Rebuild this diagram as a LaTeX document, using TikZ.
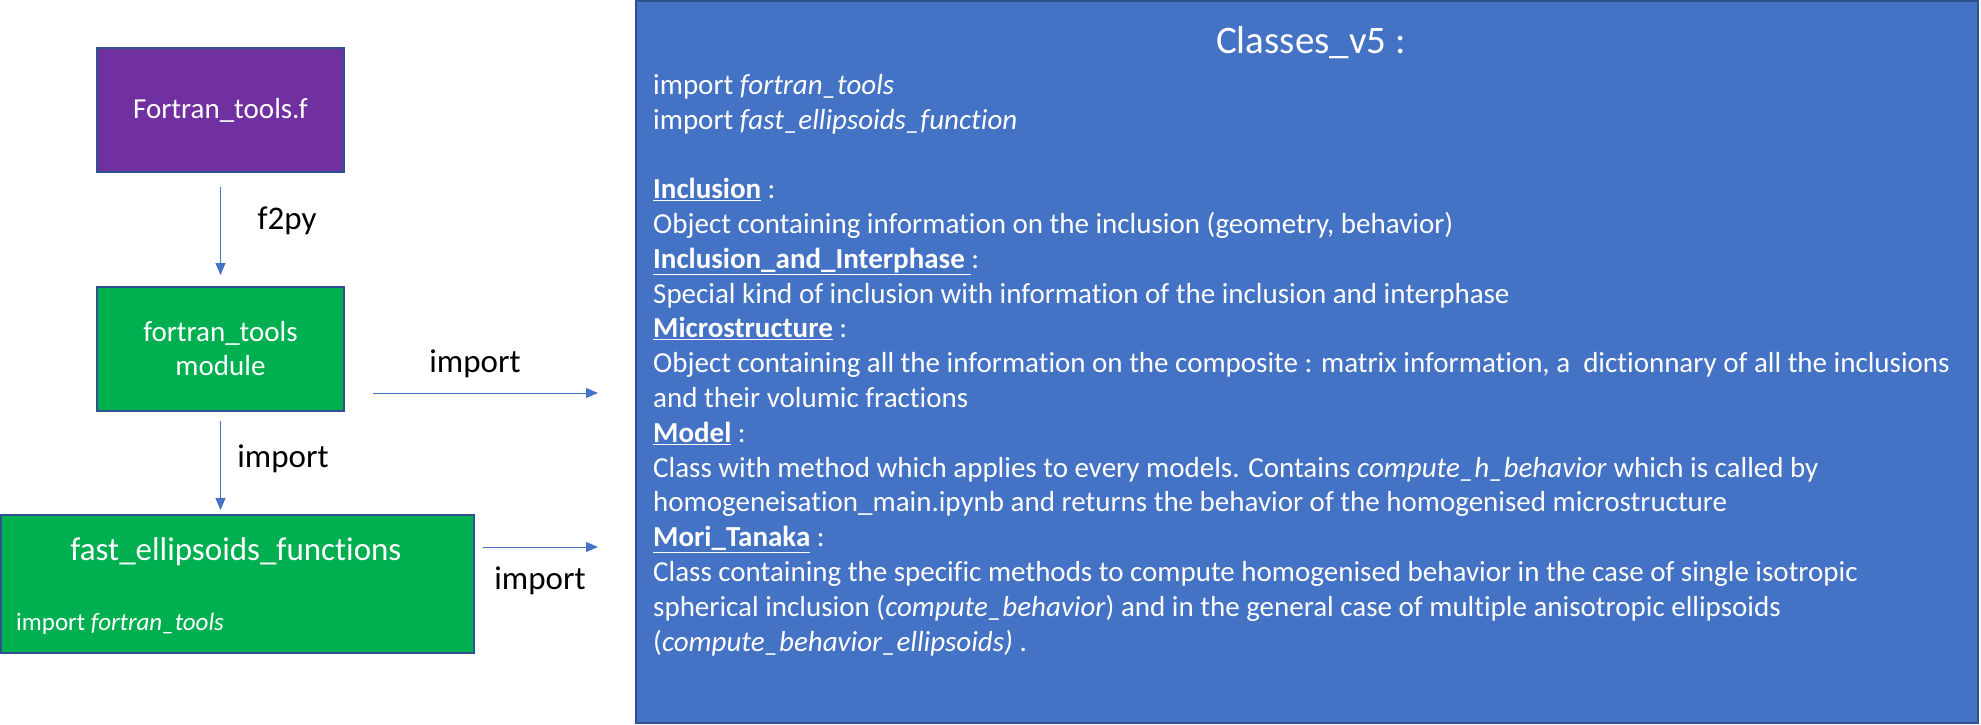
\documentclass[tikz,border=0pt]{standalone}
\usepackage{fontspec}
\setmainfont{Carlito}[Ligatures=NoCommon]
\usetikzlibrary{arrows.meta, positioning, calc}
\definecolor{pptblue}{HTML}{4472C4}
\definecolor{pptpurple}{HTML}{7030A0}
\definecolor{pptgreen}{HTML}{00B050}
\definecolor{pptedge}{HTML}{2F528F}

\begin{document}
\begin{tikzpicture}[
    x=1pt, y=1pt,
    every node/.style={font=\fontsize{29}{34}\selectfont},
    box/.style={draw=pptedge, line width=1.5pt, outer sep=0pt, fill=#1, text=white, align=center, inner sep=0pt},
    arr/.style={-{Triangle[length=12pt, width=10pt]}, line width=1pt, color=pptblue},
    lbl/.style={text=black, inner sep=0pt, font=\fontsize{33}{38}\selectfont},
    wtxt/.style={text=white, inner sep=0pt},
]
    \useasboundingbox (0,0) rectangle (1981,-725);

    % Fortran side
    \node[box=pptpurple, minimum width=247pt, minimum height=124pt] (fortf) at (220.5,-110) {Fortran\_tools.f};
    \node[box=pptgreen, minimum width=247pt, minimum height=124pt, below=115pt of fortf] (ftmod) {fortran\_tools\\module};
    \node[box=pptgreen, minimum width=473pt, minimum height=138pt] (fastfn) at (237.5,-584) {};
    \node[wtxt, font=\fontsize{33}{38}\selectfont] (fasttitle) at (236,-552) {fast\_ellipsoids\_functions};
    \node[wtxt, anchor=west, font=\fontsize{25}{30}\selectfont] (fastimp) at (16,-624) {import \textit{fortran\_tools}};

    % Classes box
    \node[draw=pptedge, line width=2pt, fill=pptblue, minimum width=1342pt, minimum height=722pt] (classes) at (1307,-362) {};
    \node[wtxt, font=\fontsize{39}{44}\selectfont] (title) at (1311,-43) {Classes\_v5 :};
    \node[wtxt, anchor=north west, align=left, font=\fontsize{29}{34.8}\selectfont] (body) at (653,-74) {%
        import \textit{fortran\_tools}\\
        import \textit{fast\_ellipsoids\_function}\\
        \mbox{}\\
        \underline{\textbf{Inclusion}} :\\
        Object containing information on the inclusion (geometry, behavior)\\
        \underline{\textbf{Inclusion\_and\_Interphase\ }}:\\
        Special kind of inclusion with information of the inclusion and interphase\\
        \underline{\textbf{Microstructure}} :\\
        Object containing all the information on the composite : matrix information, a\ \ dictionnary of all the inclusions\\
        and their volumic fractions\\
        \underline{\textbf{Model}} :\\
        Class with method which applies to every models. Contains \textit{compute\_h\_behavior} which is called by\\
        homogeneisation\_main.ipynb and returns the behavior of the homogenised microstructure\\
        \underline{\textbf{Mori\_Tanaka}} :\\
        Class containing the specific methods to compute homogenised behavior in the case of single isotropic\\
        spherical inclusion (\textit{compute\_behavior}) and in the general case of multiple anisotropic ellipsoids\\
        (\textit{compute\_behavior\_ellipsoids)} .};

    % Arrows
    \draw[arr, shorten <=15pt, shorten >=12pt] (fortf) -- (ftmod);
    \node[lbl] (f2py) at (287,-221) {f2py};
    \draw[arr] ([yshift=-10pt]ftmod.south) -- ([yshift=5pt]ftmod.south |- fastfn.north);
    \node[lbl] (impdown) at (283,-459) {import};
    \coordinate (modout) at ([shift={(29pt,18pt)}]ftmod.south east);
    \draw[arr, shorten >=37pt] (modout) -- (modout -| classes.west);
    \node[lbl] (impmod) at (475,-364) {import};
    \coordinate (fastout) at ([shift={(9pt,37pt)}]fastfn.east);
    \draw[arr, shorten >=37pt] (fastout) -- (fastout -| classes.west);
    \node[lbl] (impfast) at (540,-581) {import};
\end{tikzpicture}
\end{document}
